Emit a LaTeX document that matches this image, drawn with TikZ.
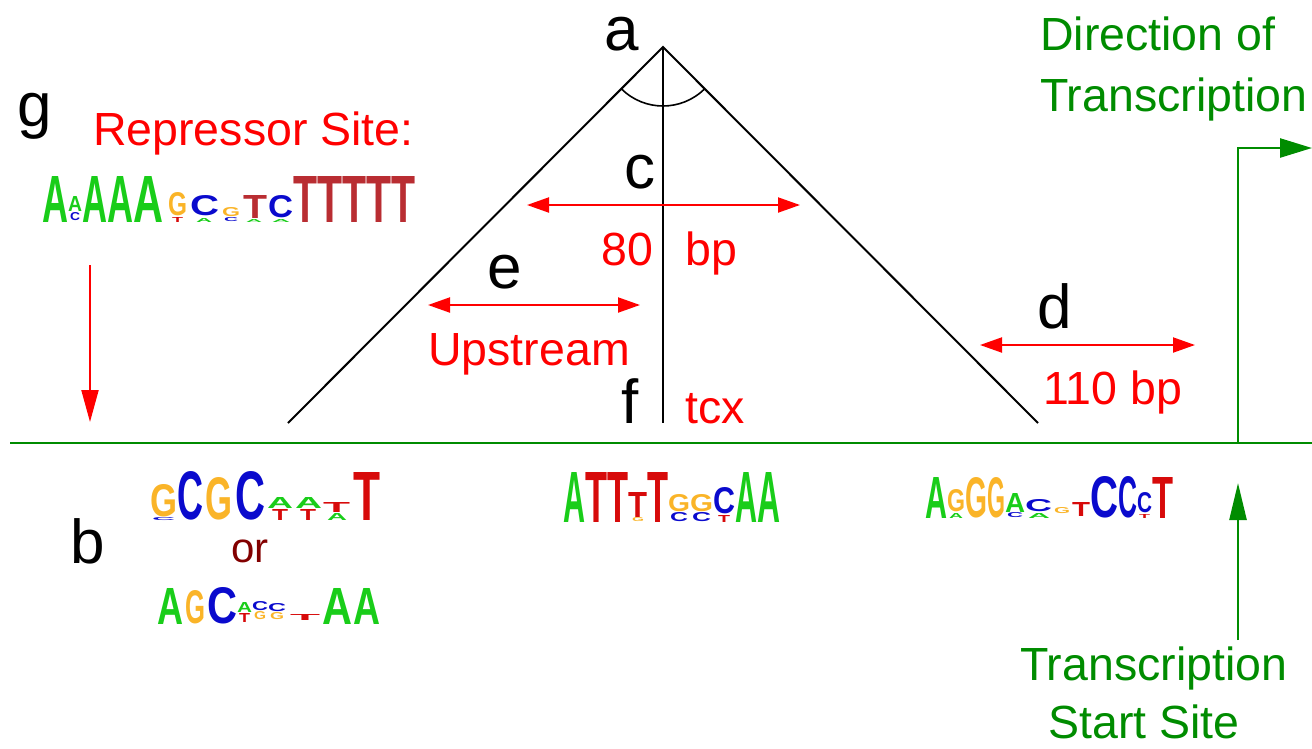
\documentclass[tikz,border=0pt]{standalone}
\usepackage{fontspec}
\setmainfont{Liberation Sans}
\usepackage{graphicx}
\usetikzlibrary{arrows.meta}
\definecolor{lgA}{RGB}{25,205,25}
\definecolor{lgC}{RGB}{10,10,205}
\definecolor{lgG}{RGB}{250,180,40}
\definecolor{lgT}{RGB}{215,10,10}
\definecolor{lgTb}{RGB}{185,45,50}
\definecolor{gtxt}{RGB}{0,140,0}
\definecolor{rtxt}{RGB}{255,0,0}
\definecolor{ortxt}{RGB}{130,0,0}
\newcounter{lt}
\newcommand\LL[6]{\stepcounter{lt}\node[name=L\arabic{lt},anchor=south west,inner sep=0pt,outer sep=0pt,text=#5] at (#1,#3) {\resizebox{\dimexpr #2pt-#1pt\relax}{\dimexpr #3pt-#4pt\relax}{\bfseries #6}};}
\tikzset{
  blk/.style={font=\fontsize{62}{64}\selectfont,inner sep=0pt,anchor=base},
  rlab/.style={font=\fontsize{46.5}{50}\selectfont,text=rtxt,inner sep=0pt,anchor=base west},
  glab/.style={font=\fontsize{46.5}{50}\selectfont,text=gtxt,inner sep=0pt,anchor=base west},
  tri/.style={line width=2pt,black},
  rarr/.style={line width=2pt,rtxt,{Triangle[length=22pt,width=15pt]}-{Triangle[length=22pt,width=15pt]}},
  garr/.style={line width=2.5pt,gtxt}
}
\begin{document}
\begin{tikzpicture}[x=1pt,y=-1pt]
\useasboundingbox (0,0) rectangle (1312,748);
% triangle
\coordinate (apex) at (663,47);
\coordinate (lb) at (288,423);
\coordinate (rb) at (1038,423);
\coordinate (cb) at (663,423);
\draw[tri] (lb) -- (apex) -- (rb);
\draw[tri] (apex) -- (cb);
\draw[line width=1.6pt] (apex) ++(45:59) arc[start angle=45,end angle=135,radius=59];
% green baseline and TSS arrows
\coordinate (gl) at (10,443);
\coordinate (gr) at (1312,443);
\coordinate (tss) at (1238,443);
\coordinate (dir) at (1312,148);
\coordinate (tssb) at (1238,640);
\coordinate (tsst) at (1238,483);
\draw[garr] (gl) -- (gr);
\draw[garr,-{Triangle[length=32pt,width=19pt]}] (tss) |- (dir);
\draw[garr,-{Triangle[length=37pt,width=17pt]}] (tssb) -- (tsst);
% red arrows
\coordinate (c1) at (527,205); \coordinate (c2) at (800,205);
\coordinate (e1) at (428,305); \coordinate (e2) at (640,305);
\coordinate (d1) at (980,345); \coordinate (d2) at (1195,345);
\coordinate (g1) at (90,265); \coordinate (g2) at (90,422);
\draw[rarr] (c1) -- (c2);
\draw[rarr] (e1) -- (e2);
\draw[rarr] (d1) -- (d2);
\draw[line width=2pt,rtxt,-{Triangle[length=32pt,width=17pt]}] (g1) -- (g2);
% black labels
\node[blk] (la) at (622,50) {a};
\node[blk] (lg) at (35,126) {g};
\node[blk] (lc) at (640,188) {c};
\node[blk] (le) at (505,288) {e};
\node[blk] (ld) at (1055,328) {d};
\node[blk] (lf) at (630,423) {f};
\node[blk] (lbb) at (88,563) {b};
% red labels
\node[rlab] (rep) at (93,145) {Repressor Site:};
\node[rlab] (n80) at (601,265) {80};
\node[rlab] (nbp) at (685,265) {bp};
\node[rlab] (up) at (428,365) {Upstream};
\node[rlab] (n110) at (1043,404) {110 bp};
\node[rlab] (tcx) at (685,423) {tcx};
\node[font=\fontsize{42}{46}\selectfont,text=ortxt,inner sep=0pt,anchor=base] (or) at (250,562) {or};
% green labels
\node[glab] (dir1) at (1040,50) {Direction of};
\node[glab] (dir2) at (1040,111) {Transcription};
\node[glab] (tss1) at (1020,680) {Transcription};
\node[glab] (tss2) at (1048,738) {Start Site};
% logo 1: repressor
\LL{42}{68}{222}{176}{lgA}{A}
\LL{68}{82}{211}{196}{lgA}{A}
\LL{70}{80}{221}{213}{lgC}{C}
\LL{82}{107}{222}{176}{lgA}{A}
\LL{107}{133}{222}{176}{lgA}{A}
\LL{133}{163}{222}{176}{lgA}{A}
\LL{168}{187}{216}{193}{lgG}{G}
\LL{172}{183}{222}{217}{lgT}{T}
\LL{190}{219}{216}{196}{lgC}{C}
\LL{196}{212}{222}{218}{lgA}{A}
\LL{222}{240}{217}{208}{lgG}{G}
\LL{224}{238}{222}{218}{lgC}{C}
\LL{243}{267}{218}{195}{lgTb}{T}
\LL{246}{262}{222}{219}{lgA}{A}
\LL{268}{293}{218}{196}{lgC}{C}
\LL{272}{290}{222}{219}{lgA}{A}
\LL{293}{317}{222}{176}{lgTb}{T}
\LL{317}{342}{222}{176}{lgTb}{T}
\LL{342}{366}{222}{176}{lgTb}{T}
\LL{366}{391}{222}{176}{lgTb}{T}
\LL{391}{415}{222}{176}{lgTb}{T}
% logo 2: GCGC
\LL{150}{177}{517}{485}{lgG}{G}
\LL{152}{175}{521}{518}{lgC}{C}
\LL{177}{203}{520}{472}{lgC}{C}
\LL{205}{232}{520}{478}{lgG}{G}
\LL{235}{265}{520}{472}{lgC}{C}
\LL{267}{293}{508}{497}{lgA}{A}
\LL{272}{288}{520}{509}{lgT}{T}
\LL{295}{322}{508}{497}{lgA}{A}
\LL{300}{316}{520}{509}{lgT}{T}
\LL{323}{350}{512}{502}{lgT}{T}
\LL{327}{347}{520}{513}{lgA}{A}
\LL{353}{380}{520}{472}{lgT}{T}
% logo 3: AGC..AA
\LL{157}{183}{624}{588}{lgA}{A}
\LL{185}{205}{624}{591}{lgG}{G}
\LL{207}{237}{624}{588}{lgC}{C}
\LL{237}{252}{612}{602}{lgA}{A}
\LL{239}{250}{622}{613}{lgT}{T}
\LL{252}{268}{611}{602}{lgC}{C}
\LL{254}{266}{620}{612}{lgG}{G}
\LL{268}{286}{612}{604}{lgC}{C}
\LL{270}{284}{620}{613}{lgG}{G}
\LL{290}{320}{620}{614}{lgT}{T}
\LL{322}{352}{624}{588}{lgA}{A}
\LL{353}{380}{624}{588}{lgA}{A}
% logo 4: ATTTTGGCAA
\LL{563}{585}{522}{472}{lgA}{A}
\LL{585}{607}{522}{472}{lgT}{T}
\LL{607}{628}{522}{472}{lgT}{T}
\LL{628}{647}{517}{492}{lgT}{T}
\LL{632}{644}{522}{518}{lgG}{G}
\LL{647}{668}{522}{472}{lgT}{T}
\LL{668}{690}{512}{495}{lgG}{G}
\LL{670}{688}{522}{513}{lgC}{C}
\LL{690}{713}{512}{495}{lgG}{G}
\LL{692}{711}{522}{513}{lgC}{C}
\LL{713}{735}{514}{488}{lgC}{C}
\LL{718}{730}{522}{515}{lgT}{T}
\LL{735}{757}{522}{472}{lgA}{A}
\LL{757}{780}{522}{472}{lgA}{A}
% logo 5: AGGGA..CCCT
\LL{925}{947}{518}{477}{lgA}{A}
\LL{947}{965}{512}{490}{lgG}{G}
\LL{949}{963}{518}{513}{lgA}{A}
\LL{965}{987}{518}{478}{lgG}{G}
\LL{987}{1005}{518}{478}{lgG}{G}
\LL{1005}{1025}{512}{493}{lgA}{A}
\LL{1007}{1023}{518}{513}{lgC}{C}
\LL{1025}{1052}{512}{500}{lgC}{C}
\LL{1028}{1050}{518}{513}{lgA}{A}
\LL{1054}{1070}{514}{508}{lgG}{G}
\LL{1072}{1090}{516}{502}{lgT}{T}
\LL{1090}{1118}{518}{477}{lgC}{C}
\LL{1118}{1137}{518}{477}{lgC}{C}
\LL{1137}{1152}{513}{493}{lgC}{C}
\LL{1139}{1150}{518}{514}{lgT}{T}
\LL{1152}{1173}{518}{477}{lgT}{T}
\end{tikzpicture}
\end{document}
